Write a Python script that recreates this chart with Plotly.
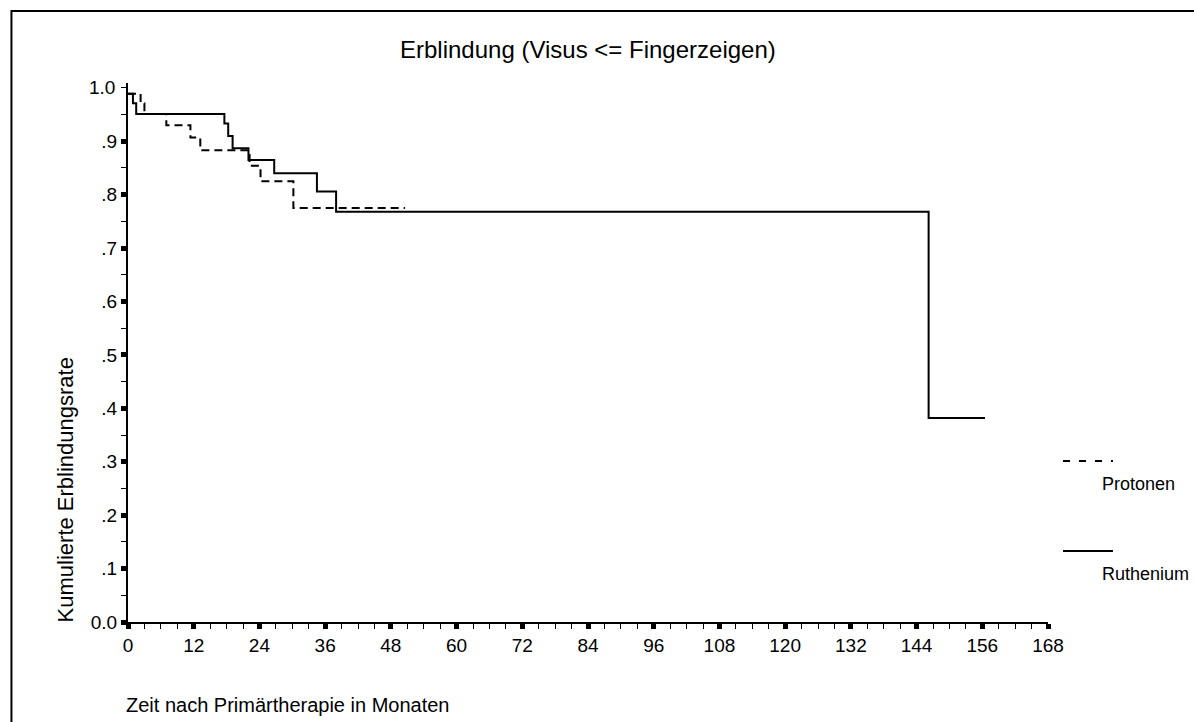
import plotly.graph_objects as go

# ---- data ----
protonen_t = [0, 2.3, 3.0, 7.0, 11.4, 13.2, 22.2, 24.2, 30.2, 50.6]
protonen_s = [0.989, 0.971, 0.951, 0.930, 0.907, 0.883, 0.854, 0.825, 0.775, 0.775]

ruthenium_t = [0, 0.9, 1.5, 17.6, 18.3, 19.1, 22.0, 26.7, 34.5, 38.0, 146.2, 156.5]
ruthenium_s = [0.989, 0.971, 0.951, 0.933, 0.910, 0.887, 0.865, 0.840, 0.806, 0.768, 0.382, 0.382]

x_ticks = [0, 12, 24, 36, 48, 60, 72, 84, 96, 108, 120, 132, 144, 156, 168]
y_ticks = [0.0, 0.1, 0.2, 0.3, 0.4, 0.5, 0.6, 0.7, 0.8, 0.9]
y_ticktext = ["0.0", ".1", ".2", ".3", ".4", ".5", ".6", ".7", ".8", ".9"]

title = "Erblindung (Visus <= Fingerzeigen)"
y_title = "Kumulierte Erblindungsrate"
x_title = "Zeit nach Primärtherapie in Monaten"
series_names = ["Protonen", "Ruthenium"]

# ---- layout geometry (pixels) ----
W, H = 1194, 722
L, R_px, T, B_px = 127.6, 1048, 83, 622
PW, PH = R_px - L, B_px - T
Y_TOP = 1.009

def px_x(p):
    return (p - L) / PW

def px_y(p):
    return (B_px - p) / PH

FONT = "Liberation Sans, Arial, sans-serif"
TICK_SIZE = 19

fig = go.Figure()
fig.add_trace(go.Scatter(x=protonen_t, y=protonen_s, mode="lines", line_shape="hv",
                         line=dict(color="black", width=2, dash="8px,5px"),
                         name=series_names[0], showlegend=False))
fig.add_trace(go.Scatter(x=ruthenium_t, y=ruthenium_s, mode="lines", line_shape="hv",
                         line=dict(color="black", width=2),
                         name=series_names[1], showlegend=False))

fig.update_layout(
    width=W, height=H,
    paper_bgcolor="white", plot_bgcolor="white",
    margin=dict(l=L, r=W - R_px, t=T, b=H - B_px, pad=0),
    font=dict(family=FONT, color="black", size=TICK_SIZE),
    xaxis=dict(range=[0, 168], tickmode="array", tickvals=x_ticks,
               ticks="outside", ticklen=5, tickwidth=5, tickcolor="black",
               showline=True, linecolor="black", linewidth=2,
               showgrid=False, zeroline=False,
               tickfont=dict(size=TICK_SIZE),
               minor=dict(dtick=3, tick0=0, ticks="outside", ticklen=5, tickwidth=1,
                          tickcolor="black", showgrid=False)),
    yaxis=dict(range=[0, Y_TOP], tickmode="array", tickvals=y_ticks, ticktext=y_ticktext,
               ticks="outside", ticklen=5, tickwidth=5, tickcolor="black",
               showline=True, linecolor="black", linewidth=2,
               showgrid=False, zeroline=False,
               tickfont=dict(size=TICK_SIZE),
               minor=dict(dtick=0.05, tick0=0, ticks="outside", ticklen=5, tickwidth=1,
                          tickcolor="black", showgrid=False)),
    showlegend=False,
)

annotations = [
    dict(text=title, x=px_x(588), y=px_y(50), xref="paper", yref="paper",
         xanchor="center", yanchor="middle", showarrow=False, font=dict(size=24)),
    dict(text=y_title, x=px_x(65), y=px_y(490), xref="paper", yref="paper",
         xanchor="center", yanchor="middle", showarrow=False, textangle=-90,
         font=dict(size=22)),
    dict(text=x_title, x=px_x(124), y=px_y(705), xref="paper", yref="paper",
         xanchor="left", yanchor="middle", showarrow=False, font=dict(size=20)),
    dict(text="1.0", x=px_x(117), y=1.0, xref="paper", yref="y",
         xanchor="right", yanchor="middle", showarrow=False, font=dict(size=TICK_SIZE)),
    dict(text=series_names[0], x=px_x(1100), y=px_y(484), xref="paper", yref="paper",
         xanchor="left", yanchor="middle", showarrow=False, font=dict(size=18)),
    dict(text=series_names[1], x=px_x(1100), y=px_y(574), xref="paper", yref="paper",
         xanchor="left", yanchor="middle", showarrow=False, font=dict(size=18)),
]
fig.update_layout(annotations=annotations)

shapes = [
    # outer frame (extends past right and bottom edges)
    dict(type="rect", xref="paper", yref="paper",
         x0=px_x(11), x1=px_x(W + 20), y0=px_y(11), y1=px_y(H + 20),
         line=dict(color="black", width=2), fillcolor="rgba(0,0,0,0)", layer="below"),
    # legend samples
    dict(type="line", xref="paper", yref="paper",
         x0=px_x(1063), x1=px_x(1113), y0=px_y(461), y1=px_y(461),
         line=dict(color="black", width=2, dash="7px,9px")),
    dict(type="line", xref="paper", yref="paper",
         x0=px_x(1063), x1=px_x(1113), y0=px_y(551), y1=px_y(551),
         line=dict(color="black", width=2)),
]
fig.update_layout(shapes=shapes)

fig.write_html("out.html")
